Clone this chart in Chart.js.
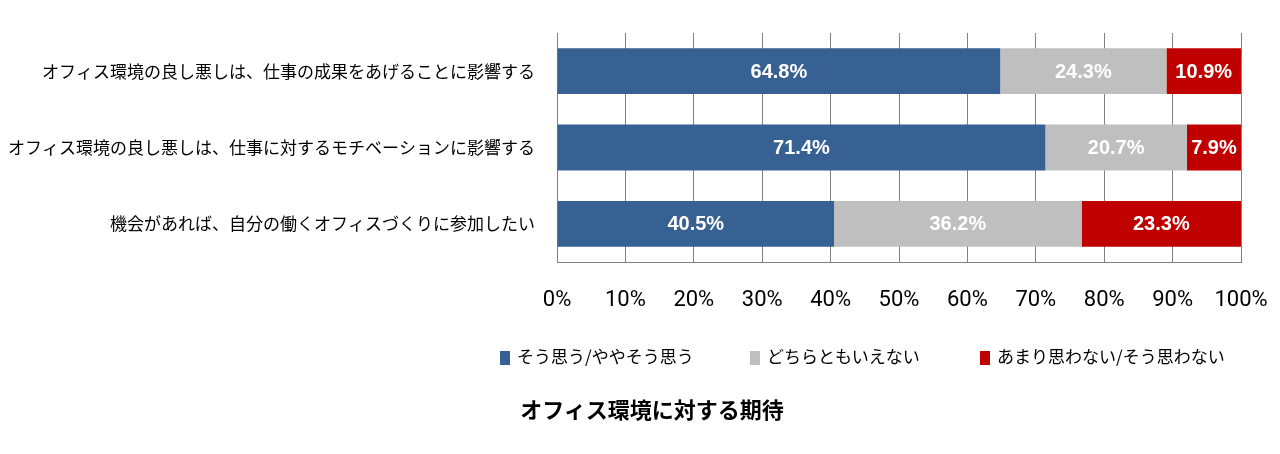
<!DOCTYPE html>
<html>
<head>
<meta charset="utf-8">
<script src="https://cdn.jsdelivr.net/npm/chart.js@4/dist/chart.umd.min.js"></script>
<style>
  html, body { margin: 0; padding: 0; background: #fff; }
  #wrap { position: relative; width: 1280px; height: 454px; }
  #legend { position: absolute; top: 344px; left: 0; width: 1280px; height: 24px;
    font: 17px "Noto Sans CJK JP", sans-serif; color: #000; }
  #legend span.item { position: absolute; top: 0; line-height: 24px; white-space: nowrap; }
  #legend span.box { display: inline-block; width: 10px; height: 14px; margin-right: 7px; vertical-align: -2px; }
  #title { position: absolute; top: 394px; left: 452px; width: 400px; text-align: center;
    font: bold 22px "Noto Sans CJK JP", sans-serif; line-height: 28px; color: #000; }
</style>
</head>
<body>
<div id="wrap">
  <canvas id="officeChart" width="1280" height="454"></canvas>
  <div id="legend"></div>
  <div id="title"></div>
</div>
<script>
'use strict';

// categories (top to bottom)
var categories = [
  'オフィス環境の良し悪しは、仕事の成果をあげることに影響する',
  'オフィス環境の良し悪しは、仕事に対するモチベーションに影響する',
  '機会があれば、自分の働くオフィスづくりに参加したい'
];

var seriesNames = ['そう思う/ややそう思う', 'どちらともいえない', 'あまり思わない/そう思わない'];
var seriesColors = ['#386193', '#bfbfbf', '#c00000'];

var agree   = [64.8, 71.4, 40.5];
var neutral = [24.3, 20.7, 36.2];
var disagree = [10.9, 7.9, 23.3];

var tickValues = [0, 10, 20, 30, 40, 50, 60, 70, 80, 90, 100];
var legendLeft = [500, 750, 980];

var titleText = 'オフィス環境に対する期待';

// value labels inside the bars
var barLabels = {
  id: 'barLabels',
  afterDatasetsDraw: function (chart) {
    var ctx = chart.ctx;
    ctx.save();
    ctx.font = 'bold 20px "Liberation Sans", Arial, sans-serif';
    ctx.fillStyle = '#ffffff';
    ctx.textAlign = 'center';
    ctx.textBaseline = 'middle';
    chart.data.datasets.forEach(function (ds, i) {
      var meta = chart.getDatasetMeta(i);
      meta.data.forEach(function (bar, j) {
        var cx = (bar.x + bar.base) / 2;
        ctx.fillText(ds.data[j].toFixed(1) + '%', cx, bar.y + 1);
      });
    });
    ctx.restore();
  }
};

var allSeries = [agree, neutral, disagree];

var ctx = document.getElementById('officeChart').getContext('2d');
var chart = new Chart(ctx, {
  type: 'bar',
  data: {
    labels: categories,
    datasets: allSeries.map(function (vals, i) {
      return {
        label: seriesNames[i],
        data: vals,
        backgroundColor: seriesColors[i],
        borderWidth: 0,
        barPercentage: 0.6,
        categoryPercentage: 1.0
      };
    })
  },
  options: {
    indexAxis: 'y',
    responsive: false,
    animation: false,
    layout: { padding: { top: 33, left: 0, right: 39, bottom: 59 } },
    plugins: {
      legend: { display: false },
      tooltip: { enabled: false },
      title: { display: false }
    },
    scales: {
      x: {
        stacked: true,
        min: 0,
        max: 100,
        afterBuildTicks: function (scale) {
          scale.ticks = tickValues.map(function (v) { return { value: v }; });
        },
        afterFit: function (scale) {
          scale.height = 133;
          scale.paddingLeft = 0;
          scale.paddingRight = 0;
        },
        grid: { color: '#828282', lineWidth: 1, drawTicks: false },
        border: { display: true, color: '#828282' },
        ticks: {
          padding: 25,
          maxRotation: 0,
          color: '#000',
          font: { family: 'Roboto, sans-serif', size: 22 },
          callback: function (v) { return v + '%'; }
        }
      },
      y: {
        stacked: true,
        afterFit: function (scale) { scale.width = 557; },
        grid: { display: false, drawTicks: false },
        border: { display: true, color: '#828282' },
        ticks: {
          padding: 22,
          color: '#000',
          font: { family: '"Noto Sans CJK JP", sans-serif', size: 17 }
        }
      }
    }
  },
  plugins: [barLabels]
});

// legend built from the series arrays
var legend = document.getElementById('legend');
seriesNames.forEach(function (name, i) {
  var item = document.createElement('span');
  item.className = 'item';
  item.style.left = legendLeft[i] + 'px';
  var box = document.createElement('span');
  box.className = 'box';
  box.style.background = seriesColors[i];
  item.appendChild(box);
  item.appendChild(document.createTextNode(name));
  legend.appendChild(item);
});

document.getElementById('title').textContent = titleText;
</script>
</body>
</html>
